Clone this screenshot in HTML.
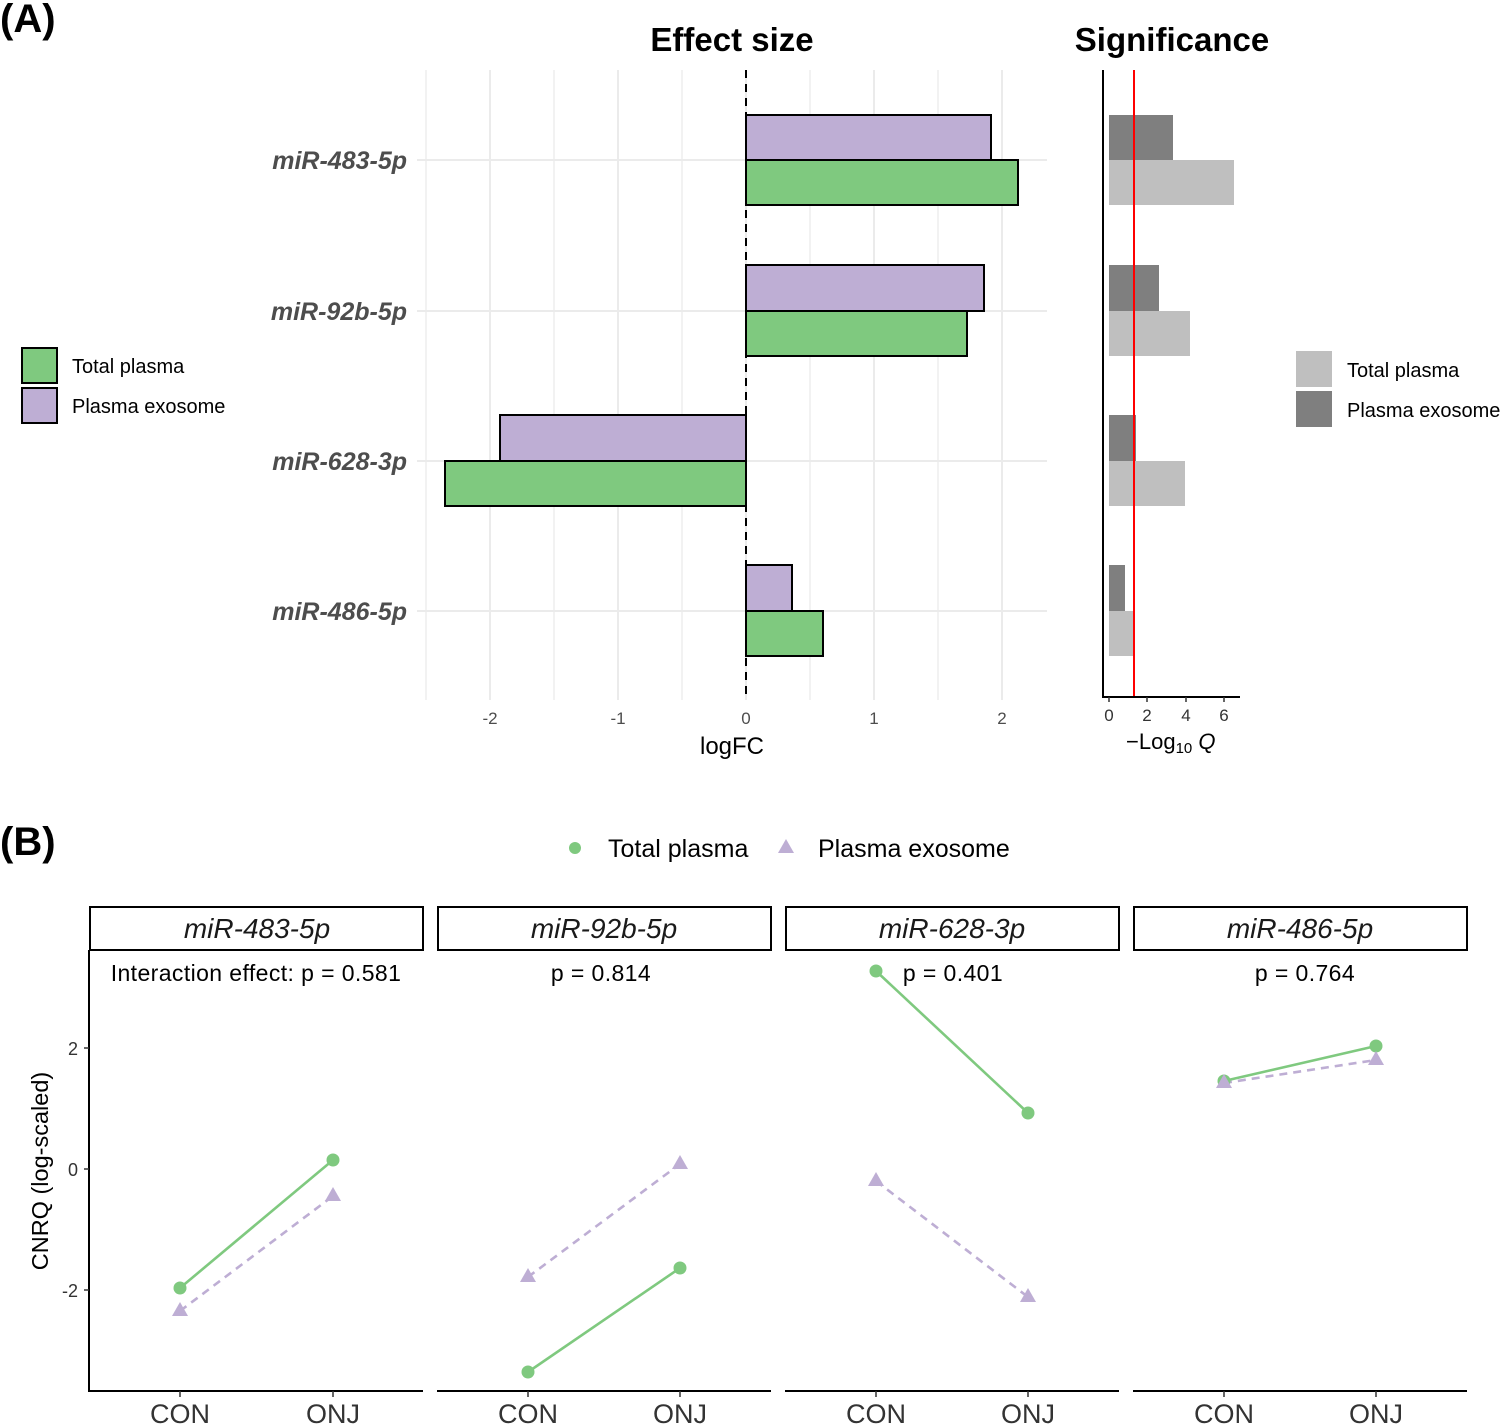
<!DOCTYPE html>
<html><head><meta charset="utf-8"><style>
html,body{margin:0;padding:0;background:#fff;}
svg{display:block;font-family:"Liberation Sans",Arial,sans-serif;}
</style></head><body>
<svg width="1504" height="1425" viewBox="0 0 1504 1425" xmlns="http://www.w3.org/2000/svg">
<rect width="1504" height="1425" fill="#fff"/>
<!-- (A) -->
<text x="0" y="32" font-size="40" font-weight="bold" fill="#000">(A)</text>
<text x="732" y="51" font-size="33" font-weight="bold" text-anchor="middle" fill="#000">Effect size</text>
<text x="1172" y="51" font-size="33" font-weight="bold" text-anchor="middle" fill="#000">Significance</text>

<!-- Effect size grid -->
<g stroke="#ebebeb">
<g stroke-width="1.3">
<line x1="426" y1="70" x2="426" y2="700"/>
<line x1="554" y1="70" x2="554" y2="700"/>
<line x1="682" y1="70" x2="682" y2="700"/>
<line x1="810" y1="70" x2="810" y2="700"/>
<line x1="938" y1="70" x2="938" y2="700"/>
</g>
<g stroke-width="2">
<line x1="490" y1="70" x2="490" y2="700"/>
<line x1="618" y1="70" x2="618" y2="700"/>
<line x1="746" y1="70" x2="746" y2="700"/>
<line x1="874" y1="70" x2="874" y2="700"/>
<line x1="1002" y1="70" x2="1002" y2="700"/>
<line x1="417" y1="160" x2="1047" y2="160"/>
<line x1="417" y1="311" x2="1047" y2="311"/>
<line x1="417" y1="461" x2="1047" y2="461"/>
<line x1="417" y1="611" x2="1047" y2="611"/>
</g>
</g>
<line x1="746" y1="70" x2="746" y2="700" stroke="#000" stroke-width="2" stroke-dasharray="8,6"/>
<!-- bars -->
<g stroke="#000" stroke-width="2">
<rect x="746" y="115" width="245" height="45" fill="#beaed4"/>
<rect x="746" y="160" width="272" height="45" fill="#7fc97f"/>
<rect x="746" y="265" width="238" height="46" fill="#beaed4"/>
<rect x="746" y="311" width="221" height="45" fill="#7fc97f"/>
<rect x="500" y="415" width="246" height="46" fill="#beaed4"/>
<rect x="445" y="461" width="301" height="45" fill="#7fc97f"/>
<rect x="746" y="565" width="46" height="46" fill="#beaed4"/>
<rect x="746" y="611" width="77" height="45" fill="#7fc97f"/>
</g>
<!-- y labels -->
<g font-size="25" font-weight="bold" font-style="italic" fill="#4d4d4d" text-anchor="end">
<text x="407" y="169">miR-483-5p</text>
<text x="407" y="320">miR-92b-5p</text>
<text x="407" y="470">miR-628-3p</text>
<text x="407" y="620">miR-486-5p</text>
</g>
<!-- x ticks -->
<g font-size="17" fill="#4d4d4d" text-anchor="middle">
<text x="490" y="724">-2</text>
<text x="618" y="724">-1</text>
<text x="746" y="724">0</text>
<text x="874" y="724">1</text>
<text x="1002" y="724">2</text>
</g>
<text x="732" y="754" font-size="24" text-anchor="middle" fill="#000">logFC</text>

<!-- left legend -->
<rect x="22" y="348" width="35" height="35" fill="#7fc97f" stroke="#000" stroke-width="2"/>
<rect x="22" y="388" width="35" height="35" fill="#beaed4" stroke="#000" stroke-width="2"/>
<text x="72" y="373" font-size="20" fill="#000">Total plasma</text>
<text x="72" y="413" font-size="20" fill="#000">Plasma exosome</text>

<!-- Significance panel -->
<g>
<rect x="1109" y="115" width="64" height="45" fill="#7f7f7f"/>
<rect x="1109" y="160" width="125" height="45" fill="#bfbfbf"/>
<rect x="1109" y="265" width="50" height="46" fill="#7f7f7f"/>
<rect x="1109" y="311" width="81" height="45" fill="#bfbfbf"/>
<rect x="1109" y="415" width="27" height="46" fill="#7f7f7f"/>
<rect x="1109" y="461" width="76" height="45" fill="#bfbfbf"/>
<rect x="1109" y="565" width="16" height="46" fill="#7f7f7f"/>
<rect x="1109" y="611" width="26" height="45" fill="#bfbfbf"/>
</g>
<line x1="1134" y1="70" x2="1134" y2="697" stroke="#ff0000" stroke-width="2"/>
<line x1="1103" y1="70" x2="1103" y2="697" stroke="#000" stroke-width="2"/>
<line x1="1102" y1="697" x2="1240" y2="697" stroke="#000" stroke-width="2"/>
<g stroke="#333" stroke-width="1.5">
<line x1="1109" y1="697" x2="1109" y2="702"/>
<line x1="1147" y1="697" x2="1147" y2="702"/>
<line x1="1186" y1="697" x2="1186" y2="702"/>
<line x1="1224" y1="697" x2="1224" y2="702"/>
</g>
<g font-size="17" fill="#333" text-anchor="middle">
<text x="1109" y="721">0</text>
<text x="1147" y="721">2</text>
<text x="1186" y="721">4</text>
<text x="1224" y="721">6</text>
</g>
<text x="1126" y="749" font-size="22" fill="#000">−Log<tspan font-size="15" dy="4">10</tspan><tspan dy="-4"> </tspan><tspan font-style="italic">Q</tspan></text>

<!-- right legend -->
<rect x="1296" y="351" width="36" height="36" fill="#bfbfbf"/>
<rect x="1296" y="391" width="36" height="36" fill="#7f7f7f"/>
<text x="1347" y="377" font-size="20" fill="#000">Total plasma</text>
<text x="1347" y="417" font-size="20" fill="#000">Plasma exosome</text>

<!-- (B) -->
<text x="0" y="855" font-size="40" font-weight="bold" fill="#000">(B)</text>
<circle cx="575" cy="848" r="6" fill="#7fc97f"/>
<polygon points="786,839 778,853 794,853" fill="#beaed4"/>
<text x="608" y="857" font-size="25" fill="#000">Total plasma</text>
<text x="818" y="857" font-size="25" fill="#000">Plasma exosome</text>

<!-- strips -->
<g fill="#fff" stroke="#000" stroke-width="2">
<rect x="90" y="907" width="333" height="43"/>
<rect x="438" y="907" width="333" height="43"/>
<rect x="786" y="907" width="333" height="43"/>
<rect x="1134" y="907" width="333" height="43"/>
</g>
<g font-size="28" font-style="italic" fill="#1a1a1a" text-anchor="middle">
<text x="257" y="938">miR-483-5p</text>
<text x="604" y="938">miR-92b-5p</text>
<text x="952" y="938">miR-628-3p</text>
<text x="1300" y="938">miR-486-5p</text>
</g>

<!-- axes -->
<line x1="89" y1="950" x2="89" y2="1392" stroke="#000" stroke-width="2"/>
<g stroke="#000" stroke-width="2">
<line x1="88" y1="1391" x2="423" y2="1391"/>
<line x1="437" y1="1391" x2="771" y2="1391"/>
<line x1="785" y1="1391" x2="1119" y2="1391"/>
<line x1="1133" y1="1391" x2="1467" y2="1391"/>
</g>
<g stroke="#333" stroke-width="1.5">
<line x1="84" y1="1048" x2="89" y2="1048"/>
<line x1="84" y1="1169" x2="89" y2="1169"/>
<line x1="84" y1="1290" x2="89" y2="1290"/>
<line x1="180" y1="1391" x2="180" y2="1397"/>
<line x1="333" y1="1391" x2="333" y2="1397"/>
<line x1="528" y1="1391" x2="528" y2="1397"/>
<line x1="680" y1="1391" x2="680" y2="1397"/>
<line x1="876" y1="1391" x2="876" y2="1397"/>
<line x1="1028" y1="1391" x2="1028" y2="1397"/>
<line x1="1224" y1="1391" x2="1224" y2="1397"/>
<line x1="1376" y1="1391" x2="1376" y2="1397"/>
</g>
<g font-size="18" fill="#333" text-anchor="end">
<text x="78" y="1055">2</text>
<text x="78" y="1176">0</text>
<text x="78" y="1297">-2</text>
</g>
<text transform="translate(48,1171) rotate(-90)" font-size="23.5" text-anchor="middle" fill="#000">CNRQ (log-scaled)</text>
<g font-size="27" fill="#333" text-anchor="middle">
<text x="180" y="1423">CON</text>
<text x="333" y="1423">ONJ</text>
<text x="528" y="1423">CON</text>
<text x="680" y="1423">ONJ</text>
<text x="876" y="1423">CON</text>
<text x="1028" y="1423">ONJ</text>
<text x="1224" y="1423">CON</text>
<text x="1376" y="1423">ONJ</text>
</g>

<!-- annotations -->
<g font-size="23" fill="#000" text-anchor="middle" letter-spacing="0.4">
<text x="256" y="981">Interaction effect: p = 0.581</text>
<text x="601" y="981">p = 0.814</text>
<text x="953" y="981">p = 0.401</text>
<text x="1305" y="981">p = 0.764</text>
</g>

<!-- lines -->
<g stroke="#7fc97f" stroke-width="2.6" fill="none">
<line x1="180" y1="1288" x2="333" y2="1160"/>
<line x1="528" y1="1372" x2="680" y2="1268"/>
<line x1="876" y1="971" x2="1028" y2="1113"/>
<line x1="1224" y1="1081" x2="1376" y2="1046"/>
</g>
<g stroke="#beaed4" stroke-width="2.6" fill="none" stroke-dasharray="8,6">
<line x1="180" y1="1311" x2="333" y2="1196"/>
<line x1="528" y1="1277" x2="680" y2="1164"/>
<line x1="876" y1="1181" x2="1028" y2="1297"/>
<line x1="1224" y1="1083" x2="1376" y2="1060"/>
</g>
<!-- points -->
<g fill="#7fc97f">
<circle cx="180" cy="1288" r="6.5"/>
<circle cx="333" cy="1160" r="6.5"/>
<circle cx="528" cy="1372" r="6.5"/>
<circle cx="680" cy="1268" r="6.5"/>
<circle cx="876" cy="971" r="6.5"/>
<circle cx="1028" cy="1113" r="6.5"/>
<circle cx="1224" cy="1081" r="6.5"/>
<circle cx="1376" cy="1046" r="6.5"/>
</g>
<g fill="#beaed4">
<polygon points="180,1302 172,1316 188,1316"/>
<polygon points="333,1187 325,1201 341,1201"/>
<polygon points="528,1268 520,1282 536,1282"/>
<polygon points="680,1155 672,1169 688,1169"/>
<polygon points="876,1172 868,1186 884,1186"/>
<polygon points="1028,1288 1020,1302 1036,1302"/>
<polygon points="1224,1074 1216,1088 1232,1088"/>
<polygon points="1376,1051 1368,1065 1384,1065"/>
</g>
</svg>
</body></html>
